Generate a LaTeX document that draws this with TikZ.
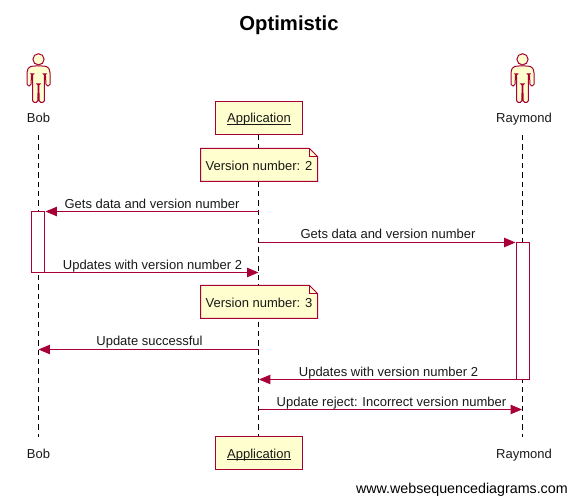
\documentclass[tikz,border=0pt]{standalone}
\usepackage{fontspec}
\setmainfont{Liberation Sans}
\usetikzlibrary{arrows.meta}
\definecolor{umlred}{HTML}{A80036}
\definecolor{umlfill}{HTML}{FEFECE}
\newsavebox{\ulbox}
\newcommand{\ultext}[1]{\sbox{\ulbox}{#1}\leavevmode\rlap{\rule[-1.3pt]{\wd\ulbox}{0.6pt}}\usebox{\ulbox}}
\tikzset{
  lbl/.style={font=\fontsize{9.75pt}{11pt}\selectfont,text=black!90,inner sep=0pt,anchor=base},
  lifeline/.style={draw=black,line width=0.75pt,dash pattern=on 4pt off 3pt},
  msg/.style={draw=umlred,line width=0.75pt,-{Triangle[length=8.5pt,width=7pt,fill=umlred]}},
  participant/.style={draw=umlred,fill=umlfill,line width=0.75pt,minimum width=65.25pt,minimum height=24.75pt,inner sep=0pt},
  activation/.style={draw=umlred,fill=white,line width=0.75pt,minimum width=9.75pt,inner sep=0pt},
  notebody/.style={draw=umlred,fill=umlfill,line width=0.75pt,line join=miter},
  actorbody/.style={draw=umlred,fill=umlfill,line width=0.75pt}
}
\newcommand{\actorfig}[1]{%
  \begin{scope}[shift={(#1,0)}]
    \draw[actorbody,rounded corners=1.3pt] (-5,66) -- (5,66) -- (9.5,66.8) -- (11.5,71) -- (11.5,86) -- (7.6,86) -- (6.9,74) -- (5.8,74) -- (5.8,102.5) -- (0.6,102.5) -- (0.4,84) -- (-0.4,84) -- (-0.6,102.5) -- (-5.8,102.5) -- (-5.8,74) -- (-6.9,74) -- (-7.6,86) -- (-11.5,86) -- (-11.5,71) -- (-9.5,66.8) -- cycle;
    \draw[actorbody] (0,59.3) circle (5.6);
  \end{scope}}
\begin{document}
\begin{tikzpicture}[x=0.75pt,y=-0.75pt]
\useasboundingbox (0,0) rectangle (576,503);
\fill[white] (0,0) rectangle (576,503);

\node[font=\bfseries\fontsize{15.2pt}{18pt}\selectfont,inner sep=0pt,anchor=base] (title) at (289,31) {Optimistic};

% lifelines
\coordinate (bobT) at (38.5,135);
\coordinate (bobB) at (38.5,437);
\coordinate (appT) at (258.5,135);
\coordinate (appB) at (258.5,437);
\coordinate (rayT) at (522.5,135);
\coordinate (rayB) at (522.5,437);
\draw[lifeline] (bobT) -- (bobB);
\draw[lifeline] (appT) -- (appB);
\draw[lifeline] (rayT) -- (rayB);

% actors
\actorfig{38.5}
\actorfig{522.5}
\node[lbl] (bobTop) at (38.5,123) {Bob};
\node[lbl] (rayTop) at (524,123) {Raymond};
\node[lbl] (bobBot) at (38.5,458) {Bob};
\node[lbl] (rayBot) at (524,458) {Raymond};

% participant boxes
\node[participant] (appTop) at (258.5,118.5) {};
\node[participant] (appBot) at (258.5,452.5) {};
\node[lbl] (appTopL) at (259,123) {\ultext{Application}};
\node[lbl] (appBotL) at (259,458) {\ultext{Application}};

% notes
\draw[notebody] (200.5,148.5) -- (309.5,148.5) -- (317.5,156.5) -- (317.5,181.5) -- (200.5,181.5) -- cycle;
\draw[notebody,fill=none] (309.5,148.5) -- (309.5,156.5) -- (317.5,156.5);
\node[lbl] (noteA) at (259,170.5) {Version number: 2};
\draw[notebody] (200.5,285.5) -- (309.5,285.5) -- (317.5,293.5) -- (317.5,318.5) -- (200.5,318.5) -- cycle;
\draw[notebody,fill=none] (309.5,285.5) -- (309.5,293.5) -- (317.5,293.5);
\node[lbl] (noteB) at (259,307.5) {Version number: 3};

% activations
\node[activation,minimum height=45.75pt] (actBob) at (38,242) {};
\node[activation,minimum height=102.75pt] (actRay) at (522.5,311) {};

% message end points
\coordinate (m1a) at (258.5,211.5); \coordinate (m1b) at (45.5,211.5);
\coordinate (m2a) at (258.5,242.5); \coordinate (m2b) at (515.5,242.5);
\coordinate (m3a) at (44.5,272.5);  \coordinate (m3b) at (258.5,272.5);
\coordinate (m4a) at (258.5,349.5); \coordinate (m4b) at (38.5,349.5);
\coordinate (m5a) at (516,379.5);   \coordinate (m5b) at (259,379.5);
\coordinate (m6a) at (258.5,409.5); \coordinate (m6b) at (522,409.5);
\draw[msg] (m1a) -- (m1b);
\draw[msg] (m2a) -- (m2b);
\draw[msg] (m3a) -- (m3b);
\draw[msg] (m4a) -- (m4b);
\draw[msg] (m5a) -- (m5b);
\draw[msg] (m6a) -- (m6b);

\node[lbl] (l1) at (152,208.5) {Gets data and version number};
\node[lbl] (l2) at (388,238.5) {Gets data and version number};
\node[lbl] (l3) at (152.5,269.5) {Updates with version number 2};
\node[lbl] (l4) at (149.5,345.5) {Update successful};
\node[lbl] (l5) at (388.5,376.5) {Updates with version number 2};
\node[lbl] (l6) at (391.5,406.5) {Update reject: Incorrect version number};

\node[font=\fontsize{10.7pt}{12pt}\selectfont,inner sep=0pt,anchor=base east] (footer) at (568,493) {www.websequencediagrams.com};
\end{tikzpicture}
\end{document}
